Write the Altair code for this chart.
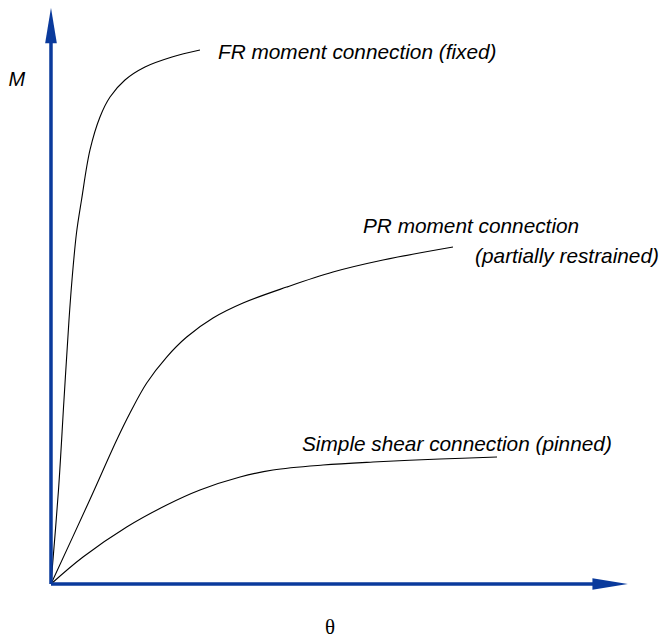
import altair as alt
import pandas as pd

# Curve data (theta, M) in arbitrary units
fr_theta = [0, 1.30, 2.25, 3.12, 3.64, 4.42, 5.29, 6.76, 8.49, 10.23, 12.82, 16.29, 20.97, 25.82]
fr_m     = [0, 16.29, 31.89, 45.75, 52.69, 60.83, 66.55, 75.22, 80.94, 84.40, 87.35, 89.60, 91.33, 92.55]

pr_theta = [0, 6.71, 11.39, 13.69, 16.59, 20.05, 23.52, 28.08, 33.28, 40.85, 48.87, 57.54, 69.67]
pr_m     = [0, 14.56, 24.96, 29.64, 34.84, 39.34, 42.81, 46.10, 48.70, 51.47, 54.07, 56.15, 58.41]

ss_theta = [0, 5.55, 13.12, 20.05, 25.82, 32.76, 38.47, 47.14, 55.81, 67.42, 77.30]
ss_m     = [0, 4.68, 9.88, 13.69, 16.29, 18.54, 19.76, 20.62, 21.14, 21.66, 22.01]

label_text  = ["FR moment connection (fixed)", "PR moment connection",
               "(partially restrained)", "Simple shear connection (pinned)"]
label_theta = [28.94, 54.07, 73.5, 43.50]
label_m     = [92.08, 61.87, 56.67, 24.09]

AX = "#0a3a9c"
X_DOM = [-7.45, 105.37]
Y_DOM = [-9.53, 99.83]

xs = alt.Scale(domain=X_DOM, nice=False, zero=False)
ys = alt.Scale(domain=Y_DOM, nice=False, zero=False)

rows = []
for name, tt, mm in [("FR", fr_theta, fr_m), ("PR", pr_theta, pr_m), ("SS", ss_theta, ss_m)]:
    for i, (t, m) in enumerate(zip(tt, mm)):
        rows.append({"curve": name, "theta": t, "M": m, "order": i})
curves_df = pd.DataFrame(rows)

curves = alt.Chart(curves_df).mark_line(color="black", strokeWidth=1.1, interpolate="catmull-rom").encode(
    x=alt.X("theta:Q", scale=xs, axis=None),
    y=alt.Y("M:Q", scale=ys, axis=None),
    detail="curve:N",
    order="order:Q",
)

axes_df = pd.DataFrame([
    {"x": 0, "y": 0, "x2": 0, "y2": 94.0},
    {"x": 0, "y": 0, "x2": 94.3, "y2": 0},
])
axes = alt.Chart(axes_df).mark_rule(color=AX, strokeWidth=3.5).encode(
    x=alt.X("x:Q", scale=xs, axis=None), y=alt.Y("y:Q", scale=ys, axis=None),
    x2="x2:Q", y2="y2:Q",
)

up_df = pd.DataFrame([{"x": 0, "y": 96.8}])
up = alt.Chart(up_df).mark_point(
    shape="M0,-1L0.33,1L-0.33,1Z", filled=True, color=AX, opacity=1, size=1250
).encode(x=alt.X("x:Q", scale=xs, axis=None), y=alt.Y("y:Q", scale=ys, axis=None))

right_df = pd.DataFrame([{"x": 96.9, "y": 0}])
right = alt.Chart(right_df).mark_point(
    shape="M1,0L-1,0.33L-1,-0.33Z", filled=True, color=AX, opacity=1, size=1250
).encode(x=alt.X("x:Q", scale=xs, axis=None), y=alt.Y("y:Q", scale=ys, axis=None))

labels_df = pd.DataFrame({"t": label_text, "x": label_theta, "y": label_m})
labels = alt.Chart(labels_df).mark_text(
    align="left", baseline="middle", font="Liberation Sans", fontStyle="italic",
    fontSize=20.8, color="black"
).encode(x=alt.X("x:Q", scale=xs, axis=None), y=alt.Y("y:Q", scale=ys, axis=None), text="t:N")

m_df = pd.DataFrame([{"t": "M", "x": -5.9, "y": 87.35}])
m_lab = alt.Chart(m_df).mark_text(
    align="center", baseline="middle", font="Liberation Sans", fontStyle="italic",
    fontSize=20, color="black"
).encode(x=alt.X("x:Q", scale=xs, axis=None), y=alt.Y("y:Q", scale=ys, axis=None), text="t:N")

th_df = pd.DataFrame([{"t": "θ", "x": 48.35, "y": -7.6}])
th_lab = alt.Chart(th_df).mark_text(
    align="center", baseline="middle", font="Liberation Serif",
    fontSize=21, color="black"
).encode(x=alt.X("x:Q", scale=xs, axis=None), y=alt.Y("y:Q", scale=ys, axis=None), text="t:N")

chart = alt.layer(curves, axes, up, right, labels, m_lab, th_lab).properties(
    width=651, height=631,
    autosize=alt.AutoSizeParams(type="none"),
    padding=0,
).configure_view(stroke=None)

chart.save("out.html", embed_options={"renderer": "svg", "actions": False})
